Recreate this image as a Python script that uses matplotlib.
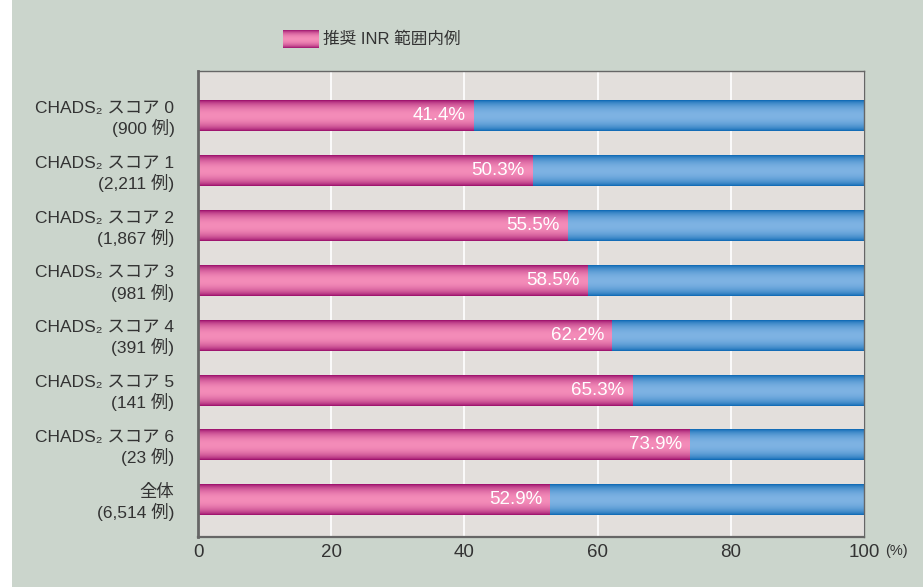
import numpy as np
import matplotlib
matplotlib.use("Agg")
import matplotlib.pyplot as plt
from matplotlib.colors import to_rgb
from matplotlib.patches import Rectangle

plt.rcParams['font.family'] = ['Liberation Sans', 'Noto Sans CJK JP', 'DejaVu Sans']

# data
scores = ["CHADS\u2082 スコア 0", "CHADS\u2082 スコア 1", "CHADS\u2082 スコア 2",
          "CHADS\u2082 スコア 3", "CHADS\u2082 スコア 4", "CHADS\u2082 スコア 5",
          "CHADS\u2082 スコア 6", "全体"]
counts = ["900", "2,211", "1,867", "981", "391", "141", "23", "6,514"]
in_range = [41.4, 50.3, 55.5, 58.5, 62.2, 65.3, 73.9, 52.9]
legend_label = "推奨 INR 範囲内例"
xticks = [0, 20, 40, 60, 80, 100]

BG = "#cbd5cc"
PLOT_BG = "#e3dfdc"
TEXT = "#333333"
PINK_DARK, PINK_LIGHT = "#960766", "#f48cb9"
BLUE_DARK, BLUE_LIGHT = "#0664b1", "#7eb3e3"


def gradient(dark, light, n=64):
    t = np.linspace(0, 1, n)
    f = np.sin(np.pi * t) ** 0.6
    d, l = np.array(to_rgb(dark)), np.array(to_rgb(light))
    return (d[None, :] * (1 - f[:, None]) + l[None, :] * f[:, None])[:, None, :]


def fill_gradient(ax, bars, dark, light):
    img = gradient(dark, light)
    for b in bars:
        x0, y0 = b.get_x(), b.get_y()
        w, h = b.get_width(), b.get_height()
        b.set_facecolor("none")
        b.set_edgecolor("none")
        ax.imshow(img, extent=(x0, x0 + w, y0 + h, y0), aspect="auto",
                  interpolation="bicubic", zorder=2, clip_on=False)


W, H = 923, 587
fig = plt.figure(figsize=(W / 100, H / 100), dpi=100)
fig.patch.set_facecolor(BG)
fig.patches.append(Rectangle((0, 0), 12 / W, 1, transform=fig.transFigure,
                             facecolor="white", edgecolor="none", zorder=-1))

ax = fig.add_axes([198 / W, 1 - 537 / H, 666 / W, 466 / H])
ax.set_facecolor(PLOT_BG)

y = np.arange(len(scores))
bh = 0.565
rest = [100 - v for v in in_range]
pink = ax.barh(y, in_range, height=bh, zorder=2)
blue = ax.barh(y, rest, left=in_range, height=bh, zorder=2)
fill_gradient(ax, pink, PINK_DARK, PINK_LIGHT)
fill_gradient(ax, blue, BLUE_DARK, BLUE_LIGHT)

for yi, v in zip(y, in_range):
    ax.annotate(f"{v:.1f}%", xy=(v, yi), xytext=(-6, 0), textcoords="offset points",
                ha="right", va="center", color="white", fontsize=13.5, zorder=3)

ax.set_xlim(0, 100)
ax.set_ylim(len(scores) - 1 + 0.68, -0.82)
ax.set_xticks(xticks)
ax.set_xticklabels([str(t) for t in xticks], fontsize=13.5, color=TEXT)
ax.set_yticks(y)
ax.set_yticklabels([f"{s}\n({c} 例)" for s, c in zip(scores, counts)],
                   fontsize=12.5, color=TEXT, linespacing=1.2, ha="right")
ax.tick_params(axis="both", length=0)
ax.tick_params(axis="y", pad=17)
ax.tick_params(axis="x", pad=5)
ax.grid(axis="x", color="white", linewidth=1.2, zorder=1)
ax.set_axisbelow(True)
for side, sp in ax.spines.items():
    sp.set_color("#666666")
    sp.set_linewidth(1.0)
ax.spines["left"].set_linewidth(2.0)
ax.spines["bottom"].set_linewidth(1.6)

ax.annotate("(%)", xy=(100, 0), xycoords=("data", "axes fraction"),
            xytext=(15, -5), textcoords="offset points", fontsize=10.5,
            color=TEXT, ha="left", va="top")

# legend
lax = fig.add_axes([283 / W, 1 - 48 / H, 36 / W, 18 / H])
lax.imshow(gradient(PINK_DARK, PINK_LIGHT), aspect="auto", interpolation="bicubic")
lax.set_axis_off()
fig.text(323 / W, 1 - 39 / H, legend_label, fontsize=12, color=TEXT,
         ha="left", va="center")

fig.savefig("out.png", dpi=100, facecolor=BG)
